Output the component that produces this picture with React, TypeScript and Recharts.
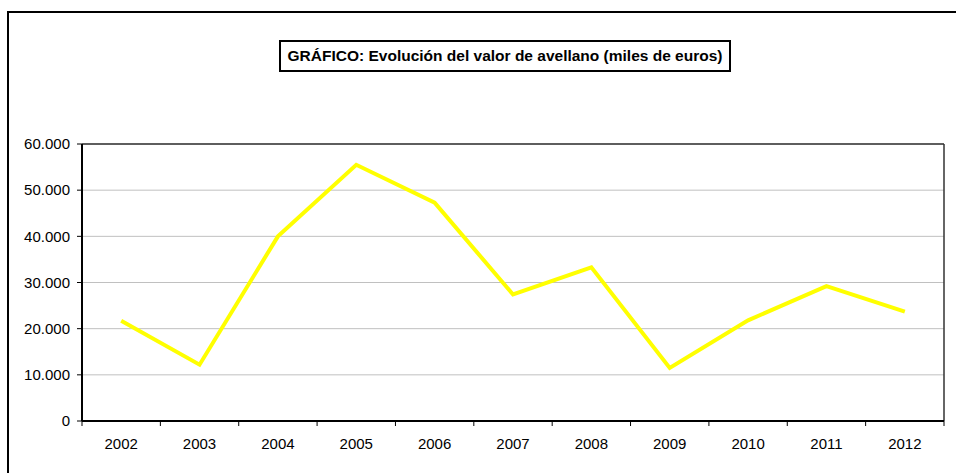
import { LineChart, Line, XAxis, YAxis, CartesianGrid, ReferenceLine } from 'recharts';

const YEARS = ['2002', '2003', '2004', '2005', '2006', '2007', '2008', '2009', '2010', '2011', '2012'];
const VALUES = [21700, 12200, 40000, 55500, 47300, 27400, 33300, 11500, 21800, 29200, 23700];
const Y_TICKS = [0, 10000, 20000, 30000, 40000, 50000, 60000];
const TITLE = 'GRÁFICO: Evolución del valor de avellano (miles de euros)';

const FONT = '"Liberation Sans", Arial, sans-serif';

// each year sits in the middle of its slot, so slot edges are whole numbers
const data = YEARS.map((year, i) => ({ year, pos: i + 0.5, value: VALUES[i] }));
const xTicks = [...YEARS.map((_, i) => i), YEARS.length, ...YEARS.map((_, i) => i + 0.5)].sort((a, b) => a - b);

const fmtThousands = (v: number) => v.toLocaleString('de-DE');

const XTick = ({ x, y, payload }: any) => {
  const v = payload.value as number;
  if (Number.isInteger(v)) {
    return <line x1={x} x2={x} y1={y} y2={y + 5} stroke="#000" strokeWidth={1} />;
  }
  return (
    <text x={x} y={y + 28} textAnchor="middle" fontSize={15} fontFamily={FONT} fill="#000">
      {YEARS[Math.floor(v)]}
    </text>
  );
};

export default function App() {
  return (
    <div style={{ position: 'absolute', left: 0, top: 0, width: 956, height: 473, overflow: 'hidden', background: '#fff' }}>
      <LineChart width={956} height={473} data={data} margin={{ top: 144, right: 12, bottom: 0, left: 0 }}>
        <CartesianGrid vertical={false} stroke="#c0c0c0" />
        <XAxis
          type="number"
          dataKey="pos"
          domain={[0, YEARS.length]}
          ticks={xTicks}
          interval={0}
          height={52}
          tickLine={false}
          tickSize={0}
          tickMargin={0}
          axisLine={{ stroke: '#000', strokeWidth: 2 }}
          tick={<XTick />}
        />
        <YAxis
          domain={[0, 60000]}
          ticks={Y_TICKS}
          width={82}
          tickSize={5}
          tickMargin={7}
          tickFormatter={fmtThousands}
          axisLine={{ stroke: '#000', strokeWidth: 2 }}
          tickLine={{ stroke: '#000' }}
          tick={{ fontSize: 15, fontFamily: FONT, fill: '#000' }}
        />
        <ReferenceLine y={60000} stroke="#333" strokeWidth={1.5} />
        <ReferenceLine x={YEARS.length} stroke="#333" strokeWidth={1.5} />
        <Line
          type="linear"
          dataKey="value"
          stroke="#ffff00"
          strokeWidth={4}
          dot={false}
          isAnimationActive={false}
        />
      </LineChart>
      <div
        style={{
          position: 'absolute',
          left: 7,
          top: 11,
          width: 1000,
          height: 500,
          border: '2px solid #000',
          boxSizing: 'border-box',
          pointerEvents: 'none',
        }}
      />
      <div
        style={{
          position: 'absolute',
          left: 279,
          top: 40,
          width: 452,
          height: 32,
          border: '2px solid #000',
          boxSizing: 'border-box',
          display: 'flex',
          alignItems: 'center',
          justifyContent: 'center',
          fontFamily: FONT,
          fontWeight: 'bold',
          fontSize: 15.5,
          color: '#000',
          whiteSpace: 'nowrap',
          background: '#fff',
        }}
      >
        {TITLE}
      </div>
    </div>
  );
}
